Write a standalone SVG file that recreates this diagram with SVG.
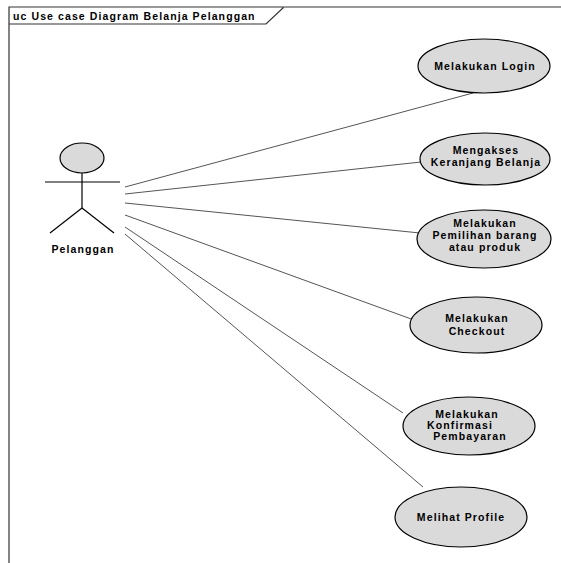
<svg xmlns="http://www.w3.org/2000/svg" width="561" height="563" viewBox="0 0 561 563">
<style>
.frame{fill:none;stroke:#333;stroke-width:1.2}
.uc{fill:#dadada;stroke:#000;stroke-width:1.2}
.t{font-family:"Liberation Sans",Arial,sans-serif;font-size:10.5px;font-weight:bold;fill:#000;text-anchor:middle;letter-spacing:1.1px}
.conn line{stroke:#555;stroke-width:1}
.actor{fill:none;stroke:#000;stroke-width:1.2}
</style>
<rect width="561" height="563" fill="#fff"/>
<g id="frame">
<path class="frame" d="M9,563 V7 H561"/>
<path class="frame" d="M9,24 H266 L283,8 V7"/>
<text x="13" y="20" class="t" style="text-anchor:start">uc Use case Diagram Belanja Pelanggan</text>
</g>
<g id="connectors" class="conn">
<line x1="125" y1="187" x2="473" y2="93"/>
<line x1="125" y1="194" x2="421" y2="162"/>
<line x1="125" y1="203" x2="420" y2="233"/>
<line x1="125" y1="215" x2="414" y2="320"/>
<line x1="125" y1="227" x2="403" y2="413"/>
<line x1="125" y1="234" x2="423" y2="487"/>
</g>
<g id="actor-pelanggan">
<ellipse cx="82" cy="158" rx="22" ry="15" class="uc"/>
<line x1="45" y1="182" x2="120" y2="182" class="actor"/>
<line x1="82" y1="173" x2="82" y2="208" class="actor"/>
<line x1="82" y1="208" x2="50" y2="233" class="actor"/>
<line x1="82" y1="208" x2="114" y2="233" class="actor"/>
<text x="83" y="253" class="t">Pelanggan</text>
</g>
<g id="uc-login">
<ellipse cx="484" cy="66" rx="66" ry="27" class="uc"/>
<text x="485" y="70" class="t">Melakukan Login</text>
</g>
<g id="uc-keranjang">
<ellipse cx="485" cy="159" rx="65" ry="26" class="uc"/>
<text x="486" y="154" class="t">Mengakses</text>
<text x="486" y="166" class="t">Keranjang Belanja</text>
</g>
<g id="uc-pemilihan">
<ellipse cx="484" cy="239" rx="67" ry="29" class="uc"/>
<text x="485" y="227" class="t">Melakukan</text>
<text x="485" y="239" class="t">Pemilihan barang</text>
<text x="485" y="251" class="t">atau produk</text>
</g>
<g id="uc-checkout">
<ellipse cx="476" cy="325" rx="66" ry="28" class="uc"/>
<text x="477" y="322" class="t">Melakukan</text>
<text x="477" y="335" class="t">Checkout</text>
</g>
<g id="uc-konfirmasi">
<ellipse cx="469" cy="426" rx="66" ry="29" class="uc"/>
<text x="467" y="418" class="t">Melakukan</text>
<text x="460" y="429" class="t">Konfirmasi</text>
<text x="470" y="440" class="t">Pembayaran</text>
</g>
<g id="uc-profile">
<ellipse cx="461" cy="517" rx="66" ry="30" class="uc"/>
<text x="461" y="521" class="t">Melihat Profile</text>
</g>
</svg>
